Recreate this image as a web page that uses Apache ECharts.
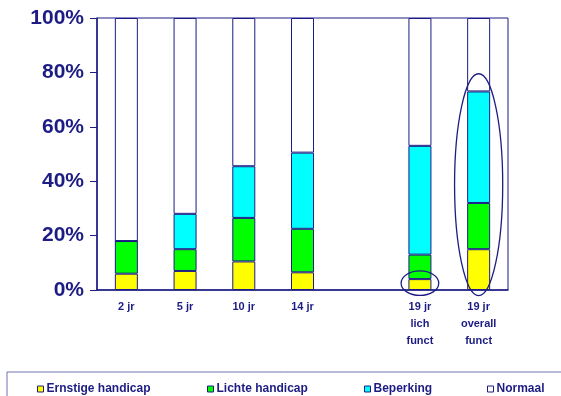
<!DOCTYPE html>
<html>
<head>
<meta charset="utf-8">
<style>
  html, body { margin: 0; padding: 0; background: #ffffff; }
  #chart { width: 561px; height: 396px; }
</style>
<script src="https://cdn.jsdelivr.net/npm/echarts@6/dist/echarts.min.js"></script>
</head>
<body>
<div id="chart"></div>
<script>
// Age groups (the fifth slot is an intentional gap before the 19-year groups)
const categories = ['2 jr', '5 jr', '10 jr', '14 jr', '', '19 jr\nlich\nfunct', '19 jr\noverall\nfunct'];

// Share of children per outcome class, in percent (stacked to 100)
const ernstige  = [6,  7,  10.5, 6.5, null, 4,  15];
const lichte    = [12, 8,  16,   16,  null, 9,  17];
const beperking = [0,  13, 19,   28,  null, 40, 41];
const normaal   = [82, 72, 54.5, 49.5, null, 47, 27];

const yTicks = [0, 20, 40, 60, 80, 100];

const navy = '#1c1c84';
const font = 'Arial, "Liberation Sans", sans-serif';

const chart = echarts.init(document.getElementById('chart'), null, { renderer: 'canvas' });

function barSeries(name, data, color) {
  return {
    name: name,
    type: 'bar',
    stack: 'total',
    data: data,
    barWidth: 23,
    itemStyle: { color: color, borderColor: navy, borderWidth: 1 },
    emphasis: { disabled: true }
  };
}

function legendAt(left, name) {
  return {
    left: left,
    top: 378,
    data: [name],
    icon: 'rect',
    itemWidth: 6,
    itemHeight: 6,
    itemGap: 4,
    itemStyle: { borderColor: navy, borderWidth: 1 },
    textStyle: { color: navy, fontFamily: font, fontWeight: 'bold', fontSize: 12, padding: [0, 0, 0, -2] },
    selectedMode: false
  };
}

chart.setOption({
  animation: false,
  backgroundColor: '#ffffff',
  grid: {
    left: 97, right: 53, top: 18, bottom: 106,
    show: true, borderColor: navy, borderWidth: 1, backgroundColor: 'transparent'
  },
  legend: [
    legendAt(32, 'Ernstige handicap'),
    legendAt(202, 'Lichte handicap'),
    legendAt(359, 'Beperking'),
    legendAt(482, 'Normaal')
  ],
  xAxis: {
    type: 'category',
    data: categories,
    axisLine: { lineStyle: { color: navy, width: 1.5 } },
    axisTick: { show: false },
    axisLabel: {
      color: navy, fontFamily: font, fontWeight: 'bold', fontSize: 11,
      lineHeight: 17, margin: 8, interval: 0
    },
    splitLine: { show: false }
  },
  yAxis: {
    type: 'value',
    min: yTicks[0],
    max: yTicks[yTicks.length - 1],
    interval: 20,
    axisLine: { show: true, lineStyle: { color: navy, width: 1.5 } },
    axisTick: { show: true, length: 7, lineStyle: { color: navy } },
    axisLabel: {
      color: navy, fontFamily: font, fontWeight: 'bold', fontSize: 21,
      margin: 13, formatter: '{value}%'
    },
    splitLine: { show: false }
  },
  series: [
    barSeries('Ernstige handicap', ernstige, '#ffff00'),
    barSeries('Lichte handicap', lichte, '#00ff00'),
    barSeries('Beperking', beperking, '#00ffff'),
    barSeries('Normaal', normaal, '#ffffff')
  ]
});

// Highlight rings around the severe-handicap share of the two 19-year groups,
// positioned from data coordinates; width is a fraction of one category band.
function ringAround(catIndex, yLow, yHigh, halfWidthCats) {
  const top = chart.convertToPixel({ gridIndex: 0 }, [catIndex, yHigh]);
  const bottom = chart.convertToPixel({ gridIndex: 0 }, [catIndex, yLow]);
  const next = chart.convertToPixel({ gridIndex: 0 }, [catIndex - 1, yLow]);
  const band = top[0] - next[0];
  return {
    type: 'ellipse',
    shape: {
      cx: top[0], cy: (top[1] + bottom[1]) / 2,
      rx: band * halfWidthCats, ry: (bottom[1] - top[1]) / 2
    },
    style: { fill: 'none', stroke: navy, lineWidth: 1.3 },
    z: 10
  };
}

chart.setOption({
  graphic: [
    ringAround(5, -2, 7, 0.32),
    ringAround(6, -2.1, 79.5, 0.41),
    {
      type: 'rect',
      shape: { x: 7, y: 372, width: 560, height: 30 },
      style: { fill: 'none', stroke: '#7070b0', lineWidth: 1 },
      z: 1
    }
  ]
});
</script>
</body>
</html>
